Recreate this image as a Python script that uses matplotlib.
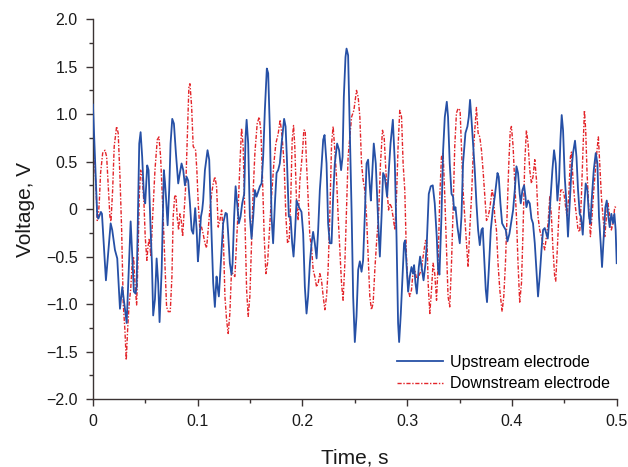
import matplotlib
matplotlib.use("Agg")
import matplotlib.pyplot as plt
from matplotlib.ticker import MultipleLocator, FuncFormatter
import numpy as np

# Upstream electrode: time in ms, voltage in V
up_t_ms = [0, 4.1, 5.2, 7.6, 8.6, 12.4, 16.9, 18.4, 21.0, 23.2, 25.8, 28.0, 29.9, 32.2, 36.0, 37.9,
           39.1, 40.7, 41.7, 44.2, 45.5, 47.0, 48.7, 49.9, 51.8, 53.1, 55.3, 56.3, 57.5, 59.2, 60.8,
           62.3, 63.6, 65.6, 67.7, 68.7, 69.7, 71.3, 72.8, 74.1, 75.7, 77.3, 79.2, 81.4, 83.0, 84.6,
           86.2, 87.8, 89.4, 90.9, 92.6, 94.2, 95.7, 97.6, 99.0, 100.2, 101.1, 103.1, 104.3, 105.2,
           106.9, 109.4, 111.0, 113.3, 114.8, 116.4, 118.0, 119.0, 120.2, 122.1, 124.3, 126.6, 127.9,
           129.1, 130.7, 132.3, 133.3, 134.8, 136.2, 137.7, 139.3, 140.9, 142.5, 144.4, 145.7, 146.7,
           148.2, 149.8, 151.4, 153.0, 154.6, 156.2, 157.7, 159.4, 161.0, 162.5, 164.1, 166.0, 167.3,
           168.9, 170.5, 172.0, 173.7, 175.3, 176.8, 178.4, 180.1, 182.5, 183.9, 185.1, 187.0, 188.6,
           190.2, 191.5, 192.7, 194.4, 196.6, 199.1, 200.7, 202.3, 203.9, 205.4, 207.1, 208.7, 210.2,
           211.8, 213.5, 215.0, 216.6, 218.2, 219.8, 221.1, 223.0, 224.5, 226.1, 227.8, 229.3, 230.9,
           233.1, 235.0, 236.9, 238.3, 239.5, 241.1, 242.1, 243.6, 245.2, 246.9, 248.4, 250.0, 251.6,
           253.2, 254.8, 256.4, 257.9, 259.5, 261.2, 262.7, 264.3, 265.3, 266.5, 268.1, 270.0, 271.3,
           272.9, 273.9, 275.5, 277.0, 278.6, 280.8, 281.8, 284.1, 286.3, 288.2, 289.8, 291.3, 292.3,
           293.9, 295.5, 297.0, 298.0, 299.3, 300.9, 302.5, 304.1, 305.6, 306.6, 307.9, 309.2, 311.1,
           312.3, 314.2, 315.6, 317.5, 318.7, 320.6, 322.5, 324.4, 326.3, 328.2, 329.5, 330.8, 332.7,
           334.3, 335.9, 337.8, 339.0, 340.6, 342.3, 343.8, 344.8, 346.1, 348.0, 350.2, 351.8, 353.3,
           355.6, 357.5, 358.8, 360.0, 361.4, 362.9, 364.5, 366.1, 367.7, 369.3, 370.9, 372.1, 373.4,
           375.0, 376.2, 377.9, 379.8, 381.7, 383.6, 386.2, 387.4, 389.0, 390.6, 392.5, 394.1, 395.7,
           397.6, 399.5, 401.1, 402.7, 404.3, 405.8, 407.4, 408.4, 410.0, 411.6, 412.9, 413.8, 415.4,
           417.0, 418.6, 420.1, 421.8, 423.4, 424.9, 426.5, 428.2, 429.7, 431.3, 432.9, 434.2, 435.4,
           436.7, 438.6, 440.2, 441.8, 443.4, 445.0, 446.3, 447.5, 448.8, 450.4, 452.0, 453.5, 455.2,
           456.8, 458.3, 460.2, 461.6, 463.1, 464.7, 465.9, 467.6, 469.2, 470.4, 472.0, 473.6, 474.9,
           476.1, 478.1, 480.0, 481.6, 483.1, 484.7, 486.0, 487.6, 489.2, 490.5, 492.1, 493.3, 494.9,
           496.5, 497.8, 499.0, 500.0]
up_v = [1.10, -0.08, -0.10, -0.03, -0.05, -0.75, -0.15, -0.22, -0.43, -0.52, -1.05, -0.82, -0.99, -1.20, -0.13, -0.57,
        -0.87, -0.89, -0.82, 0.69, 0.81, 0.55, 0.13, 0.06, 0.46, 0.41, -0.29, -0.57, -1.12, -0.95, -0.52,
        -0.78, -1.19, -0.64, 0.41, 0.29, 0.13, -0.17, 0.20, 0.69, 0.95, 0.90, 0.59, 0.27, 0.38, 0.48,
        0.41, 0.25, 0.34, 0.30, 0.06, -0.22, -0.26, 0.01, -0.22, -0.55, -0.43, -0.08, -0.01, 0.09,
        0.41, 0.62, 0.52, -0.29, -0.78, -1.03, -0.71, -0.82, -0.92, -0.57, -0.15, -0.04, -0.05,
        -0.26, -0.57, -0.69, -0.57, -0.08, 0.24, 0.06, -0.15, -0.08, 0.06, 0.16, 0.76, 0.94,
        0.69, -0.08, -0.31, -0.08, 0.20, 0.13, 0.18, 0.24, 0.27, 0.55, 1.04, 1.48, 1.43,
        0.83, -0.08, -0.36, 0.06, 0.38, 0.41, 0.48, 0.69, 0.95, 0.87, 0.55, -0.08, -0.08,
        -0.36, -0.50, -0.29, 0.09, 0.02, -0.03, -0.26, -0.82, -1.10, -0.92, -0.57, -0.36, -0.24,
        -0.36, -0.52, -0.22, 0.20, 0.45, 0.73, 0.78, 0.48, -0.15, -0.36, -0.36, 0.13, 0.48,
        0.69, 0.62, 0.41, 0.55, 1.18, 1.60, 1.69, 1.62, 0.83, -0.01, -0.92, -1.40, -1.13,
        -0.64, -0.55, -0.66, -0.54, -0.08, 0.48, 0.52, 0.24, 0.09, 0.34, 0.69, 0.48, 0.13,
        -0.29, -0.50, -0.08, 0.38, 0.34, 0.13, 0.30, 0.69, 0.94, 0.48, -0.29, -1.20, -1.40,
        -1.10, -0.71, -0.36, -0.33, -0.57, -0.87, -0.71, -0.61, -0.68, -0.59, -0.78, -0.89, -0.61,
        -0.50, -0.64, -0.75, -0.57, -0.36, 0.16, 0.24, 0.25, 0.06, -0.29, -0.64, -0.69, -0.08,
        0.62, 0.97, 1.13, 0.97, 0.48, 0.16, 0.13, -0.01, 0.02, -0.19, -0.36, -0.08, 0.48,
        0.80, 0.87, 0.97, 1.15, 0.94, 0.69, 0.41, 0.06, -0.22, -0.38, -0.22, -0.20, -0.50,
        -0.85, -0.98, -0.64, -0.22, -0.01, 0.13, 0.38, 0.34, 0.06, -0.15, -0.19, -0.22, -0.34,
        -0.26, -0.12, -0.01, 0.20, 0.45, 0.38, 0.16, 0.06, 0.20, 0.25, 0.13, 0.02, 0.09,
        0.06, -0.10, -0.15, -0.36, -0.64, -0.92, -0.71, -0.43, -0.22, -0.20, -0.26, -0.31, -0.15,
        0.09, 0.41, 0.62, 0.48, 0.09, 0.31, 0.73, 0.99, 0.83, 0.34, 0.06, -0.29, 0.06,
        0.41, 0.59, 0.72, 0.55, 0.20, -0.05, -0.08, -0.27, 0.06, 0.27, 0.20, -0.08, -0.15,
        0.09, 0.41, 0.59, 0.48, -0.08, -0.36, -0.61, -0.29, 0.02, 0.09, -0.08, -0.19, -0.05,
        -0.15, -0.05, -0.22, -0.57]

# Downstream electrode: time in ms, voltage in V
down_t_ms = [0, 1.0, 2.9, 4.1, 5.1, 6.0, 7.3, 9.3, 11.5, 13.1, 14.6, 16.2, 17.2, 18.8, 20.3, 22.6, 24.1,
             25.8, 27.4, 28.9, 30.5, 31.8, 33.1, 34.6, 36.0, 37.5, 38.8, 40.1, 41.7, 42.9, 44.2, 45.5,
             47.0, 48.7, 49.9, 51.5, 52.5, 53.7, 55.3, 57.0, 59.2, 61.4, 63.0, 64.6, 66.5, 68.7, 70.3,
             71.9, 73.8, 75.4, 76.6, 78.0, 79.2, 80.4, 81.8, 83.0, 84.3, 85.6, 87.1, 88.7, 90.0, 91.6,
             92.6, 94.2, 95.7, 98.0, 99.2, 100.5, 102.1, 103.7, 105.2, 106.9, 108.5, 110.0, 111.6,
             113.3, 114.8, 116.4, 118.0, 119.6, 121.2, 122.8, 124.3, 126.0, 127.6, 129.1, 130.7,
             132.3, 133.9, 135.5, 137.1, 138.6, 140.3, 141.9, 143.4, 145.0, 146.7, 148.2, 149.8,
             151.4, 153.0, 154.6, 156.8, 158.7, 160.3, 161.9, 163.5, 165.1, 166.7, 168.9, 170.5,
             172.7, 174.6, 176.8, 178.7, 180.6, 182.5, 184.2, 185.8, 187.3, 188.9, 190.2, 191.5,
             192.7, 194.4, 195.9, 197.5, 199.1, 200.4, 201.3, 202.6, 203.9, 205.4, 207.1, 208.7,
             210.2, 211.8, 213.5, 215.0, 216.6, 218.2, 219.8, 221.4, 223.0, 224.5, 226.1, 227.8,
             229.3, 230.9, 232.5, 234.1, 235.7, 237.3, 238.8, 240.5, 242.1, 243.6, 245.2, 246.9,
             249.1, 251.6, 253.2, 254.8, 256.4, 257.9, 259.5, 261.2, 262.7, 264.3, 265.9, 267.5,
             269.1, 270.7, 272.6, 274.5, 276.4, 278.0, 279.6, 280.8, 282.2, 283.4, 285.0, 286.5,
             288.2, 289.8, 291.3, 292.9, 294.6, 296.1, 297.7, 299.3, 300.9, 302.5, 304.1, 305.6,
             307.2, 308.9, 310.4, 312.0, 313.6, 315.2, 317.5, 319.0, 320.0, 321.6, 323.2, 324.7,
             326.3, 328.0, 329.5, 331.1, 332.7, 334.3, 335.9, 337.5, 339.0, 340.6, 342.3, 343.8,
             345.4, 347.0, 348.6, 350.5, 351.8, 353.3, 355.0, 356.6, 358.1, 359.7, 361.4, 362.9,
             364.5, 366.1, 367.7, 369.3, 370.9, 372.4, 374.1, 375.7, 377.2, 378.8, 381.0, 382.4,
             383.6, 385.2, 386.7, 388.4, 390.6, 392.2, 393.8, 395.3, 397.0, 398.4, 399.5, 401.1,
             402.7, 404.3, 405.8, 407.4, 409.1, 410.6, 412.2, 413.8, 415.4, 417.0, 418.6, 420.1,
             421.8, 423.4, 424.9, 426.5, 428.2, 429.7, 431.3, 432.9, 434.5, 436.1, 437.7, 439.2,
             440.8, 441.8, 443.4, 445.0, 446.6, 448.2, 449.7, 451.3, 452.6, 454.2, 455.8, 456.8,
             458.3, 459.9, 461.6, 463.1, 464.7, 466.3, 467.8, 469.2, 470.4, 471.7, 473.3, 474.9,
             476.4, 478.1, 479.7, 481.2, 482.5, 483.8, 485.4, 486.9, 488.6, 490.2, 491.7, 493.3,
             494.9, 496.5, 498.1, 500.0]
down_v = [0.60, 0.59, 0.24, -0.12, -0.08, 0.06, 0.38, 0.59, 0.62, 0.55, 0.24, -0.08, -0.13, 0.20, 0.66, 0.87, 0.80,
          0.34, -0.22, -0.99, -1.27, -1.59, -1.27, -0.99, -0.85, -0.57, -0.50, -0.78, -1.01, -0.57, 0.13, 0.41,
          0.34, 0.06, -0.29, -0.54, -0.40, -0.31, -0.50, -0.08, 0.41, 0.73, 0.76, 0.55, 0.06, -0.57, -1.03,
          -1.08, -1.08, -0.71, -0.08, 0.13, 0.15, -0.08, -0.22, -0.05, -0.12, -0.29, -0.01, 0.27, 0.72, 1.29,
          1.32, 1.08, 0.66, 0.62, 0.41, 0.06, -0.22, -0.19, -0.26, -0.36, -0.41, -0.22, -0.01,
          0.16, 0.27, 0.34, 0.24, -0.19, -0.12, -0.01, -0.22, -0.92, -1.17, -1.31, -1.10,
          -0.64, -0.69, -0.71, -0.36, -0.01, 0.48, 0.85, 0.66, -0.08, -0.85, -1.13, -0.92,
          -0.36, 0.20, 0.59, 0.90, 0.97, 0.83, 0.31, -0.29, -0.68, -0.57, -0.15, 0.13,
          0.48, 0.69, 0.79, 0.94, 0.76, 0.48, -0.08, -0.36, -0.33, 0.13, 0.73, 0.88,
          0.66, 0.06, -0.12, 0.30, 0.48, 0.66, 0.83, 0.83, 0.48, 0.13, -0.29, -0.40,
          -0.64, -0.71, -0.82, -0.78, -0.68, -0.75, -0.92, -1.06, -0.92, -0.64, -0.08, 0.69,
          0.87, 0.62, 0.34, -0.08, -0.43, -0.78, -0.96, -0.57, -0.01, 0.55, 0.76, 0.97,
          1.04, 1.25, 1.18, 0.97, 0.48, 0.31, 0.20, -0.08, -0.50, -0.92, -1.06, -0.99,
          -0.64, -0.36, -0.08, 0.48, 0.83, 0.76, 0.41, 0.20, -0.01, 0.06, 0.02, -0.08,
          -0.22, 0.13, 0.66, 1.04, 0.97, 0.48, 0.20, -0.50, -0.85, -0.92, -0.85, -0.66,
          -0.64, -0.73, -0.73, -0.68, -0.64, -0.50, -0.33, -0.36, -0.78, -1.10, -0.85, -0.57,
          -0.68, -0.96, -0.57, 0.13, 0.55, 0.59, 0.13, -0.40, -0.92, -1.03, -0.57, -0.01,
          0.66, 1.01, 1.06, 1.04, 0.66, 0.20, -0.08, -0.36, -0.61, -0.22, 0.13, 0.55,
          0.83, 1.07, 0.80, 0.76, 0.62, 0.41, 0.13, -0.12, -0.08, 0.00, 0.20, 0.13,
          -0.08, -0.22, -0.57, -0.85, -1.08, -0.92, -0.57, -0.08, 0.48, 0.83, 0.87, 0.66,
          0.27, -0.08, -0.57, -0.98, -0.78, -0.22, 0.48, 0.83, 0.69, 0.41, 0.27, 0.34,
          0.52, 0.31, -0.08, -0.22, -0.29, -0.36, -0.43, -0.29, -0.15, 0.13, -0.08, -0.43,
          -0.71, -0.76, -0.40, -0.01, 0.20, 0.20, 0.16, 0.02, -0.08, 0.13, 0.55, 0.60,
          0.31, 0.09, -0.08, -0.22, -0.24, 0.13, 0.62, 1.04, 0.83, 0.38, 0.02, -0.29,
          -0.08, 0.20, 0.41, 0.62, 0.76, 0.48, 0.13, -0.08, -0.29, -0.08, 0.06, -0.08,
          -0.22, -0.15, 0.02, 0.02]

x_ticks = [0, 0.1, 0.2, 0.3, 0.4, 0.5]
y_ticks = [-2.0, -1.5, -1.0, -0.5, 0, 0.5, 1.0, 1.5, 2.0]

plt.rcParams['font.family'] = ['Liberation Sans', 'DejaVu Sans']
plt.rcParams['axes.unicode_minus'] = True

fig = plt.figure(figsize=(6.28, 4.67), dpi=100)
ax = fig.add_axes([0.148, 0.1456, 0.834, 0.8134])

up_t = np.array(up_t_ms) / 1000.0
down_t = np.array(down_t_ms) / 1000.0

ax.plot(down_t, down_v, color='#e3262b', linewidth=1.0, dashes=(3.0, 1.2, 1.0, 1.2),
        label='Downstream electrode', zorder=2)
ax.plot(up_t, up_v, color='#2650a6', linewidth=1.3, label='Upstream electrode', zorder=3)

ax.set_xlim(0, 0.5)
ax.set_ylim(-2.0, 2.0)
ax.set_xticks(x_ticks)
ax.set_yticks(y_ticks)
ax.xaxis.set_minor_locator(MultipleLocator(0.05))
ax.yaxis.set_minor_locator(MultipleLocator(0.25))

def xfmt(v, pos):
    return '0' if abs(v) < 1e-9 else f'{v:.1f}'

def yfmt(v, pos):
    if abs(v) < 1e-9:
        return '0'
    s = f'{abs(v):.1f}'
    return ('\u2212' + s) if v < 0 else s

ax.xaxis.set_major_formatter(FuncFormatter(xfmt))
ax.yaxis.set_major_formatter(FuncFormatter(yfmt))

axis_color = '#3b3333'
for side in ['top', 'right']:
    ax.spines[side].set_visible(False)
for side in ['left', 'bottom']:
    ax.spines[side].set_color(axis_color)
    ax.spines[side].set_linewidth(1.0)

ax.tick_params(which='major', direction='out', length=5, width=1.0, color=axis_color,
               labelsize=11.5, labelcolor='#1a1a1a', pad=6)
ax.tick_params(which='minor', direction='out', length=3, width=1.0, color=axis_color)

ax.set_xlabel('Time, s', fontsize=15, color='#1a1a1a', labelpad=14)
ax.set_ylabel('Voltage, V', fontsize=15, color='#1a1a1a', labelpad=8)

handles, labels = ax.get_legend_handles_labels()
leg = ax.legend(handles[::-1], labels[::-1], loc='lower right', bbox_to_anchor=(0.988, 0.02),
                frameon=False, fontsize=11.5, handlelength=2.9, handletextpad=0.45,
                labelspacing=0.4, borderaxespad=0, borderpad=0)

fig.savefig('out.png', dpi=100)
